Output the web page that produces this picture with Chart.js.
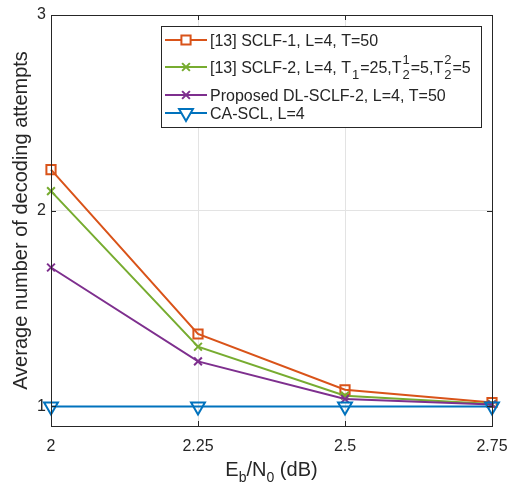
<!DOCTYPE html>
<html>
<head>
<meta charset="utf-8">
<script src="https://cdn.jsdelivr.net/npm/chart.js@4"></script>
<style>
  html, body { margin: 0; padding: 0; background: #fff; }
  #wrap { width: 513px; height: 487px; }
</style>
</head>
<body>
<div id="wrap"><canvas id="c" width="513" height="487"></canvas></div>
<script>
const snr = [2, 2.25, 2.5, 2.75];
const xTicks = [2, 2.25, 2.5, 2.75];
const yTicks = [1, 2, 3];

const sclf1 = [2.21, 1.37, 1.085, 1.02];
const sclf2 = [2.10, 1.305, 1.055, 1.012];
const proposed = [1.71, 1.23, 1.038, 1.01];
const caScl = [1, 1, 1, 1];

const FONT = "'Liberation Sans', Arial, sans-serif";
const AX = "#262626";

const toXY = arr => arr.map((v, i) => ({ x: snr[i], y: v }));

const series = [
  { label: "sclf1", data: sclf1, color: "#D95319", style: "rect", r: 6.5, rot: 0, order: 4 },
  { label: "sclf2", data: sclf2, color: "#77AC30", style: "crossRot", r: 5.5, rot: 0, order: 3 },
  { label: "proposed", data: proposed, color: "#7E2F8E", style: "crossRot", r: 5.5, rot: 0, order: 2 },
  { label: "ca", data: caScl, color: "#0072BD", style: "triangle", r: 8, rot: 180, order: 1 }
];

// legend rows: pieces of text with sub / sup
const legendRows = [
  { y: 40, parts: [["[13] SCLF-1, L=4, T=50"]] },
  { y: 67, parts: [["[13] SCLF-2, L=4, T"], ["1", "sub"], ["=25,T"], ["2", "sub", "1"], ["=5,T"], ["2", "sub", "2"], ["=5"]] },
  { y: 95, parts: [["Proposed DL-SCLF-2, L=4, T=50"]] },
  { y: 113, parts: [["CA-SCL, L=4"]] }
];

const deco = {
  id: "deco",
  afterDraw(chart) {
    const ctx = chart.ctx;
    const a = chart.chartArea;
    const xs = chart.scales.x, ys = chart.scales.y;
    ctx.save();
    // box
    ctx.strokeStyle = AX;
    ctx.lineWidth = 1;
    ctx.strokeRect(Math.round(a.left) + 0.5, Math.round(a.top) + 0.5, Math.round(a.right - a.left), Math.round(a.bottom - a.top));
    // inward ticks
    ctx.beginPath();
    xTicks.forEach(t => {
      const px = Math.round(xs.getPixelForValue(t)) + 0.5;
      ctx.moveTo(px, a.bottom); ctx.lineTo(px, a.bottom - 5);
      ctx.moveTo(px, a.top); ctx.lineTo(px, a.top + 5);
    });
    yTicks.forEach(t => {
      const py = Math.round(ys.getPixelForValue(t)) + 0.5;
      ctx.moveTo(a.left, py); ctx.lineTo(a.left + 5, py);
      ctx.moveTo(a.right, py); ctx.lineTo(a.right - 5, py);
    });
    ctx.stroke();

    // x title with subscripts
    ctx.fillStyle = AX;
    ctx.textBaseline = "alphabetic";
    const big = "20px " + FONT, small = "14px " + FONT;
    const xParts = [["E", big, 0], ["b", small, 6], ["/N", big, 0], ["0", small, 6], [" (dB)", big, 0]];
    let w = 0;
    xParts.forEach(p => { ctx.font = p[1]; w += ctx.measureText(p[0]).width; });
    let cx = (a.left + a.right) / 2 - w / 2;
    const by = 476;
    xParts.forEach(p => { ctx.font = p[1]; ctx.fillText(p[0], cx, by + p[2]); cx += ctx.measureText(p[0]).width; });

    // legend
    const L = 161, T = 26, R = 481, B = 127;
    ctx.fillStyle = "#fff";
    ctx.fillRect(L, T, R - L, B - T);
    ctx.strokeStyle = AX;
    ctx.strokeRect(L + 0.5, T + 0.5, R - L, B - T);
    legendRows.forEach((row, i) => {
      const s = series[i];
      ctx.strokeStyle = s.color;
      ctx.lineWidth = 2;
      ctx.beginPath();
      ctx.moveTo(165, row.y); ctx.lineTo(207, row.y);
      ctx.stroke();
      ctx.fillStyle = "#fff";
      Chart.helpers.drawPoint(ctx, { pointStyle: s.style, radius: s.r, rotation: s.rot, borderWidth: 2 }, 186, row.y);
      ctx.fillStyle = AX;
      let tx = 210;
      row.parts.forEach(p => {
        if (!p[1]) {
          ctx.font = "16px " + FONT;
          ctx.fillText(p[0], tx, row.y + 6);
          tx += ctx.measureText(p[0]).width;
        } else {
          ctx.font = "13px " + FONT;
          let pw = ctx.measureText(p[0]).width;
          ctx.fillText(p[0], tx + 1, row.y + 12);
          if (p[2]) {
            ctx.fillText(p[2], tx + 1, row.y - 3);
            pw = Math.max(pw, ctx.measureText(p[2]).width);
          }
          tx += pw + 2;
        }
      });
    });
    ctx.restore();
  }
};

new Chart(document.getElementById("c"), {
  type: "line",
  data: {
    datasets: series.map(s => ({
      label: s.label,
      data: toXY(s.data),
      borderColor: s.color,
      backgroundColor: "rgba(0,0,0,0)",
      borderWidth: 2,
      pointStyle: s.style,
      pointRadius: s.r,
      pointRotation: s.rot,
      pointBorderColor: s.color,
      pointBackgroundColor: "rgba(0,0,0,0)",
      pointBorderWidth: 2,
      tension: 0,
      clip: false,
      order: s.order
    }))
  },
  options: {
    responsive: false,
    animation: false,
    devicePixelRatio: 1,
    layout: { padding: { top: 15, right: 21, left: 0, bottom: 0 } },
    plugins: { legend: { display: false }, tooltip: { enabled: false } },
    scales: {
      x: {
        type: "linear",
        min: 2, max: 2.75,
        afterBuildTicks: s => { s.ticks = xTicks.map(v => ({ value: v })); },
        afterFit: s => { s.height = 61; s.paddingRight = 0; s.paddingLeft = 0; },
        grid: { color: "#e3e3e3", drawTicks: false },
        border: { display: false },
        ticks: { color: AX, font: { family: FONT, size: 16 }, padding: 11, maxRotation: 0, callback: v => String(+v.toFixed(2)) }
      },
      y: {
        type: "linear",
        min: 0.9, max: 3,
        afterBuildTicks: s => { s.ticks = yTicks.map(v => ({ value: v })); },
        afterFit: s => { s.width = 51; s.paddingTop = 0; s.paddingBottom = 0; },
        grid: { color: "#e3e3e3", drawTicks: false },
        border: { display: false },
        ticks: { color: AX, font: { family: FONT, size: 16 }, padding: 5, callback: v => String(v) },
        title: { display: true, text: "Average number of decoding attempts", color: AX, font: { family: FONT, size: 20 }, padding: { top: 9, bottom: 0 } }
      }
    }
  },
  plugins: [deco]
});
</script>
</body>
</html>
